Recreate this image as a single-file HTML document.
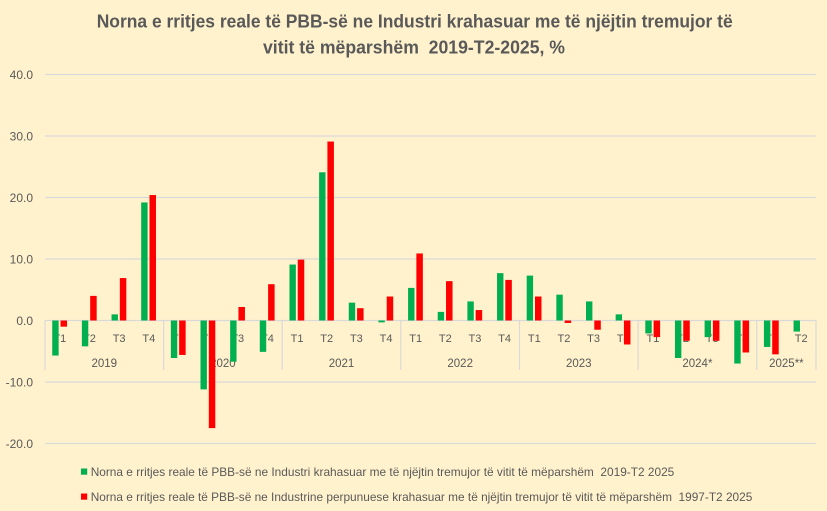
<!DOCTYPE html>
<html><head><meta charset="utf-8"><style>
html,body{margin:0;padding:0;background:#FFF2CC;}
svg{display:block;}
text{font-family:"Liberation Sans",sans-serif;fill:#595959;white-space:pre;}
</style></head><body>
<svg width="827" height="511" viewBox="0 0 827 511" xmlns="http://www.w3.org/2000/svg">
<rect x="0" y="0" width="827" height="511" fill="#FFF2CC"/>
<!-- title -->
<text x="414.7" y="27.5" text-anchor="middle" font-size="18.5" font-weight="bold" textLength="636" lengthAdjust="spacingAndGlyphs">Norna e rritjes reale të PBB-së ne Industri krahasuar me të njëjtin tremujor të</text>
<text x="414" y="53.5" text-anchor="middle" font-size="18.5" font-weight="bold" textLength="302" lengthAdjust="spacingAndGlyphs">vitit të mëparshëm  2019-T2-2025, %</text>
<!-- gridlines -->
<g stroke="#D9D9D9" stroke-width="1.2">
<line x1="45" y1="74.5" x2="816" y2="74.5"/>
<line x1="45" y1="136" x2="816" y2="136"/>
<line x1="45" y1="197.5" x2="816" y2="197.5"/>
<line x1="45" y1="259" x2="816" y2="259"/>
<line x1="45" y1="382" x2="816" y2="382"/>
<line x1="45" y1="443.5" x2="816" y2="443.5"/>
<line x1="45" y1="320.5" x2="816" y2="320.5"/>
</g>
<!-- category dividers -->
<g stroke="#D9D9D9" stroke-width="1.2">
<line x1="45" y1="320.5" x2="45" y2="370"/>
<line x1="163.6" y1="320.5" x2="163.6" y2="370"/>
<line x1="282.2" y1="320.5" x2="282.2" y2="370"/>
<line x1="400.8" y1="320.5" x2="400.8" y2="370"/>
<line x1="519.5" y1="320.5" x2="519.5" y2="370"/>
<line x1="638.1" y1="320.5" x2="638.1" y2="370"/>
<line x1="756.7" y1="320.5" x2="756.7" y2="370"/>
<line x1="816" y1="320.5" x2="816" y2="370"/>
</g>
<!-- y labels -->
<g font-size="12" text-anchor="end">
<text x="33" y="78.8">40.0</text>
<text x="33" y="140.3">30.0</text>
<text x="33" y="201.8">20.0</text>
<text x="33" y="263.3">10.0</text>
<text x="33" y="324.8">0.0</text>
<text x="33" y="386.3">-10.0</text>
<text x="33" y="447.8">-20.0</text>
</g>
<!-- tick labels -->
<g font-size="11" text-anchor="middle">
<text x="59.83" y="342">T1</text><text x="89.48" y="342">T2</text><text x="119.13" y="342">T3</text><text x="148.79" y="342">T4</text>
<text x="178.44" y="342">T1</text><text x="208.10" y="342">T2</text><text x="237.75" y="342">T3</text><text x="267.40" y="342">T4</text>
<text x="297.06" y="342">T1</text><text x="326.71" y="342">T2</text><text x="356.37" y="342">T3</text><text x="386.02" y="342">T4</text>
<text x="415.67" y="342">T1</text><text x="445.33" y="342">T2</text><text x="474.98" y="342">T3</text><text x="504.63" y="342">T4</text>
<text x="534.29" y="342">T1</text><text x="563.94" y="342">T2</text><text x="593.60" y="342">T3</text><text x="623.25" y="342">T4</text>
<text x="652.90" y="342">T1</text><text x="682.56" y="342">T2</text><text x="712.21" y="342">T3</text><text x="741.87" y="342">T4</text>
<text x="771.52" y="342">T1</text><text x="801.17" y="342">T2</text>
</g>
<g font-size="11.5" text-anchor="middle">
<text x="104.3" y="366.8">2019</text>
<text x="222.9" y="366.8">2020</text>
<text x="341.5" y="366.8">2021</text>
<text x="460.2" y="366.8">2022</text>
<text x="578.8" y="366.8">2023</text>
<text x="697.4" y="366.8">2024*</text>
<text x="786.4" y="366.8">2025**</text>
</g>
<!-- green bars -->
<g fill="#00B050">
<rect x="52.23" y="320.5" width="6.4" height="35.06"/>
<rect x="81.88" y="320.5" width="6.4" height="25.83"/>
<rect x="111.53" y="314.35" width="6.4" height="6.15"/>
<rect x="141.19" y="202.42" width="6.4" height="118.08"/>
<rect x="170.84" y="320.5" width="6.4" height="37.52"/>
<rect x="200.50" y="320.5" width="6.4" height="68.88"/>
<rect x="230.15" y="320.5" width="6.4" height="41.21"/>
<rect x="259.80" y="320.5" width="6.4" height="31.37"/>
<rect x="289.46" y="264.53" width="6.4" height="55.97"/>
<rect x="319.11" y="172.28" width="6.4" height="148.22"/>
<rect x="348.77" y="302.66" width="6.4" height="17.84"/>
<rect x="378.42" y="320.5" width="6.4" height="1.85"/>
<rect x="408.07" y="287.9" width="6.4" height="32.6"/>
<rect x="437.73" y="311.89" width="6.4" height="8.61"/>
<rect x="467.38" y="301.43" width="6.4" height="19.07"/>
<rect x="497.03" y="273.14" width="6.4" height="47.36"/>
<rect x="526.69" y="275.6" width="6.4" height="44.9"/>
<rect x="556.34" y="294.67" width="6.4" height="25.83"/>
<rect x="586.00" y="301.43" width="6.4" height="19.07"/>
<rect x="615.65" y="314.35" width="6.4" height="6.15"/>
<rect x="645.30" y="320.5" width="6.4" height="12.92"/>
<rect x="674.96" y="320.5" width="6.4" height="37.52"/>
<rect x="704.61" y="320.5" width="6.4" height="16.61"/>
<rect x="734.27" y="320.5" width="6.4" height="43.05"/>
<rect x="763.92" y="320.5" width="6.4" height="26.45"/>
<rect x="793.57" y="320.5" width="6.4" height="11.07"/>
</g>
<!-- red bars -->
<g fill="#FF0000">
<rect x="60.53" y="320.5" width="6.5" height="6.15"/>
<rect x="90.18" y="295.9" width="6.5" height="24.6"/>
<rect x="119.83" y="278.06" width="6.5" height="42.44"/>
<rect x="149.49" y="195.04" width="6.5" height="125.46"/>
<rect x="179.14" y="320.5" width="6.5" height="34.44"/>
<rect x="208.80" y="320.5" width="6.5" height="107.63"/>
<rect x="238.45" y="306.97" width="6.5" height="13.53"/>
<rect x="268.10" y="284.21" width="6.5" height="36.29"/>
<rect x="297.76" y="259.61" width="6.5" height="60.89"/>
<rect x="327.41" y="141.53" width="6.5" height="178.97"/>
<rect x="357.07" y="308.2" width="6.5" height="12.3"/>
<rect x="386.72" y="296.51" width="6.5" height="23.99"/>
<rect x="416.37" y="253.46" width="6.5" height="67.04"/>
<rect x="446.03" y="281.14" width="6.5" height="39.36"/>
<rect x="475.68" y="310.04" width="6.5" height="10.46"/>
<rect x="505.33" y="279.91" width="6.5" height="40.59"/>
<rect x="534.99" y="296.51" width="6.5" height="23.99"/>
<rect x="564.64" y="320.5" width="6.5" height="2.46"/>
<rect x="594.30" y="320.5" width="6.5" height="9.23"/>
<rect x="623.95" y="320.5" width="6.5" height="23.99"/>
<rect x="653.60" y="320.5" width="6.5" height="16.61"/>
<rect x="683.26" y="320.5" width="6.5" height="20.3"/>
<rect x="712.91" y="320.5" width="6.5" height="20.3"/>
<rect x="742.57" y="320.5" width="6.5" height="31.98"/>
<rect x="772.22" y="320.5" width="6.5" height="33.83"/>
</g>
<!-- legend -->
<rect x="81" y="468.5" width="6.2" height="6.2" fill="#00B050"/>
<rect x="81" y="493.5" width="6.2" height="6.2" fill="#FF0000"/>
<text x="90.7" y="476" font-size="12" textLength="583.6" lengthAdjust="spacingAndGlyphs">Norna e rritjes reale të PBB-së ne Industri krahasuar me të njëjtin tremujor të vitit të mëparshëm  2019-T2 2025</text>
<text x="90.7" y="501" font-size="12" textLength="661.6" lengthAdjust="spacingAndGlyphs">Norna e rritjes reale të PBB-së ne Industrine perpunuese krahasuar me të njëjtin tremujor të vitit të mëparshëm  1997-T2 2025</text>
</svg>
</body></html>
